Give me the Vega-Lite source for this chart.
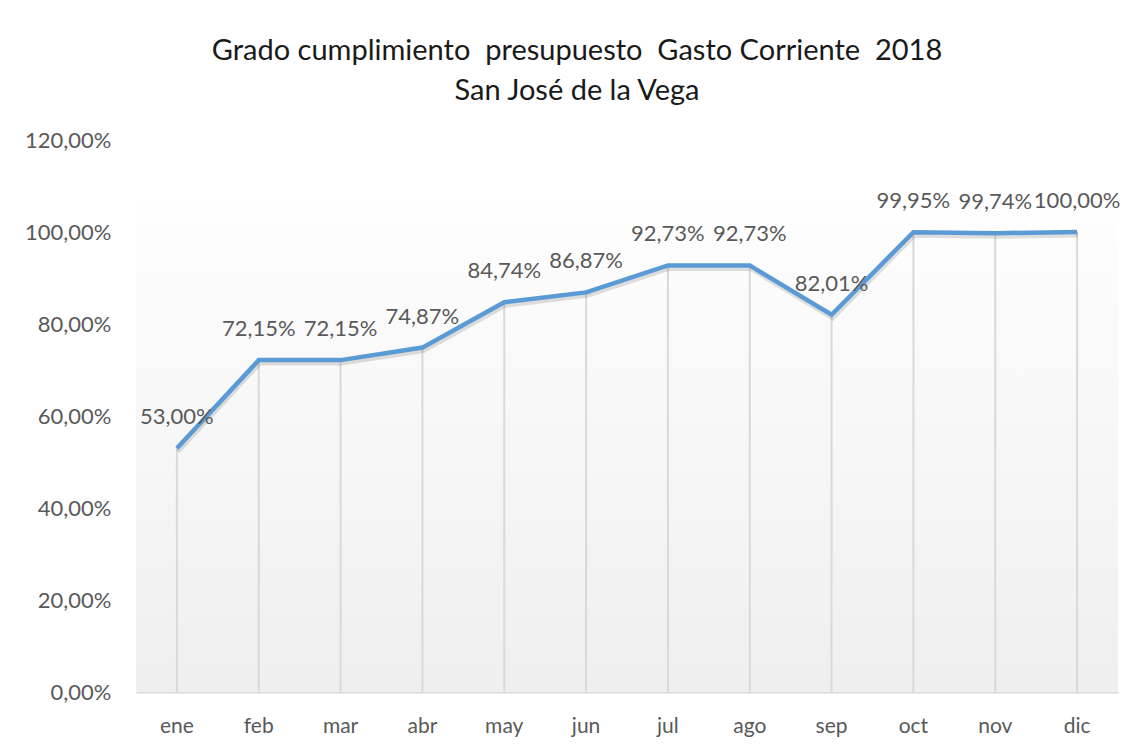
{
  "$schema": "https://vega.github.io/schema/vega-lite/v6.json",
  "autosize": "none",
  "width": 982,
  "height": 552,
  "padding": {"left": 136, "top": 140, "right": 25, "bottom": 59},
  "background": "white",
  "config": {
    "locale": {"number": {"decimal": ",", "thousands": ".", "grouping": [3], "currency": ["", " €"]}},
    "view": {"stroke": null},
    "font": "Lato"
  },
  "title": {
    "text": ["Grado cumplimiento\u00a0 presupuesto\u00a0 Gasto Corriente\u00a0 2018", "San José de la Vega"],
    "anchor": "middle",
    "dx": -50,
    "fontSize": 29,
    "fontWeight": "normal",
    "color": "#1a1a1a",
    "lineHeight": 40,
    "offset": 23,
    "font": "Lato"
  },
  "data": {
    "values": [
      {"mes": "ene", "valor": 0.53},
      {"mes": "feb", "valor": 0.7215},
      {"mes": "mar", "valor": 0.7215},
      {"mes": "abr", "valor": 0.7487},
      {"mes": "may", "valor": 0.8474},
      {"mes": "jun", "valor": 0.8687},
      {"mes": "jul", "valor": 0.9273},
      {"mes": "ago", "valor": 0.9273},
      {"mes": "sep", "valor": 0.8201},
      {"mes": "oct", "valor": 0.9995},
      {"mes": "nov", "valor": 0.9974},
      {"mes": "dic", "valor": 1.0}
    ]
  },
  "encoding": {
    "x": {
      "field": "mes", "type": "nominal", "sort": null,
      "scale": {"paddingInner": 0, "paddingOuter": 0},
      "axis": {
        "title": null, "labelAngle": 0, "ticks": false,
        "domainColor": "#d9d9d9", "domainWidth": 2,
        "labelColor": "#595959", "labelFontSize": 21, "labelPadding": 23,
        "labelFont": "Lato"
      }
    },
    "y": {
      "field": "valor", "type": "quantitative",
      "scale": {"domain": [0, 1.2], "nice": false},
      "axis": {
        "title": null, "values": [0, 0.2, 0.4, 0.6, 0.8, 1.0, 1.2], "format": ".2%",
        "domain": false, "ticks": false, "grid": false,
        "labelColor": "#595959", "labelFontSize": 22, "labelPadding": 25,
        "labelFont": "Lato"
      }
    }
  },
  "layer": [
    {
      "mark": {
        "type": "rect",
        "color": {
          "gradient": "linear", "x1": 0, "y1": 0, "x2": 0, "y2": 1,
          "stops": [{"offset": 0, "color": "#fefefe"}, {"offset": 1, "color": "#efefef"}]
        }
      },
      "encoding": {
        "x": null,
        "y": {"datum": 1.06, "type": "quantitative"},
        "y2": {"datum": 0}
      }
    },
    {
      "mark": {"type": "rule", "color": "#d9d9d9", "strokeWidth": 2},
      "encoding": {"y2": {"datum": 0}}
    },
    {
      "mark": {"type": "line", "color": "#000000", "opacity": 0.12, "strokeWidth": 5, "yOffset": 3, "xOffset": 1},
      "encoding": {}
    },
    {
      "mark": {"type": "line", "color": "#5b9bd5", "strokeWidth": 4.5, "strokeJoin": "miter"},
      "encoding": {}
    },
    {
      "mark": {"type": "text", "dy": -31, "fontSize": 22, "color": "#595959", "font": "Lato", "baseline": "middle"},
      "encoding": {"text": {"field": "valor", "type": "quantitative", "format": ".2%"}}
    }
  ]
}
